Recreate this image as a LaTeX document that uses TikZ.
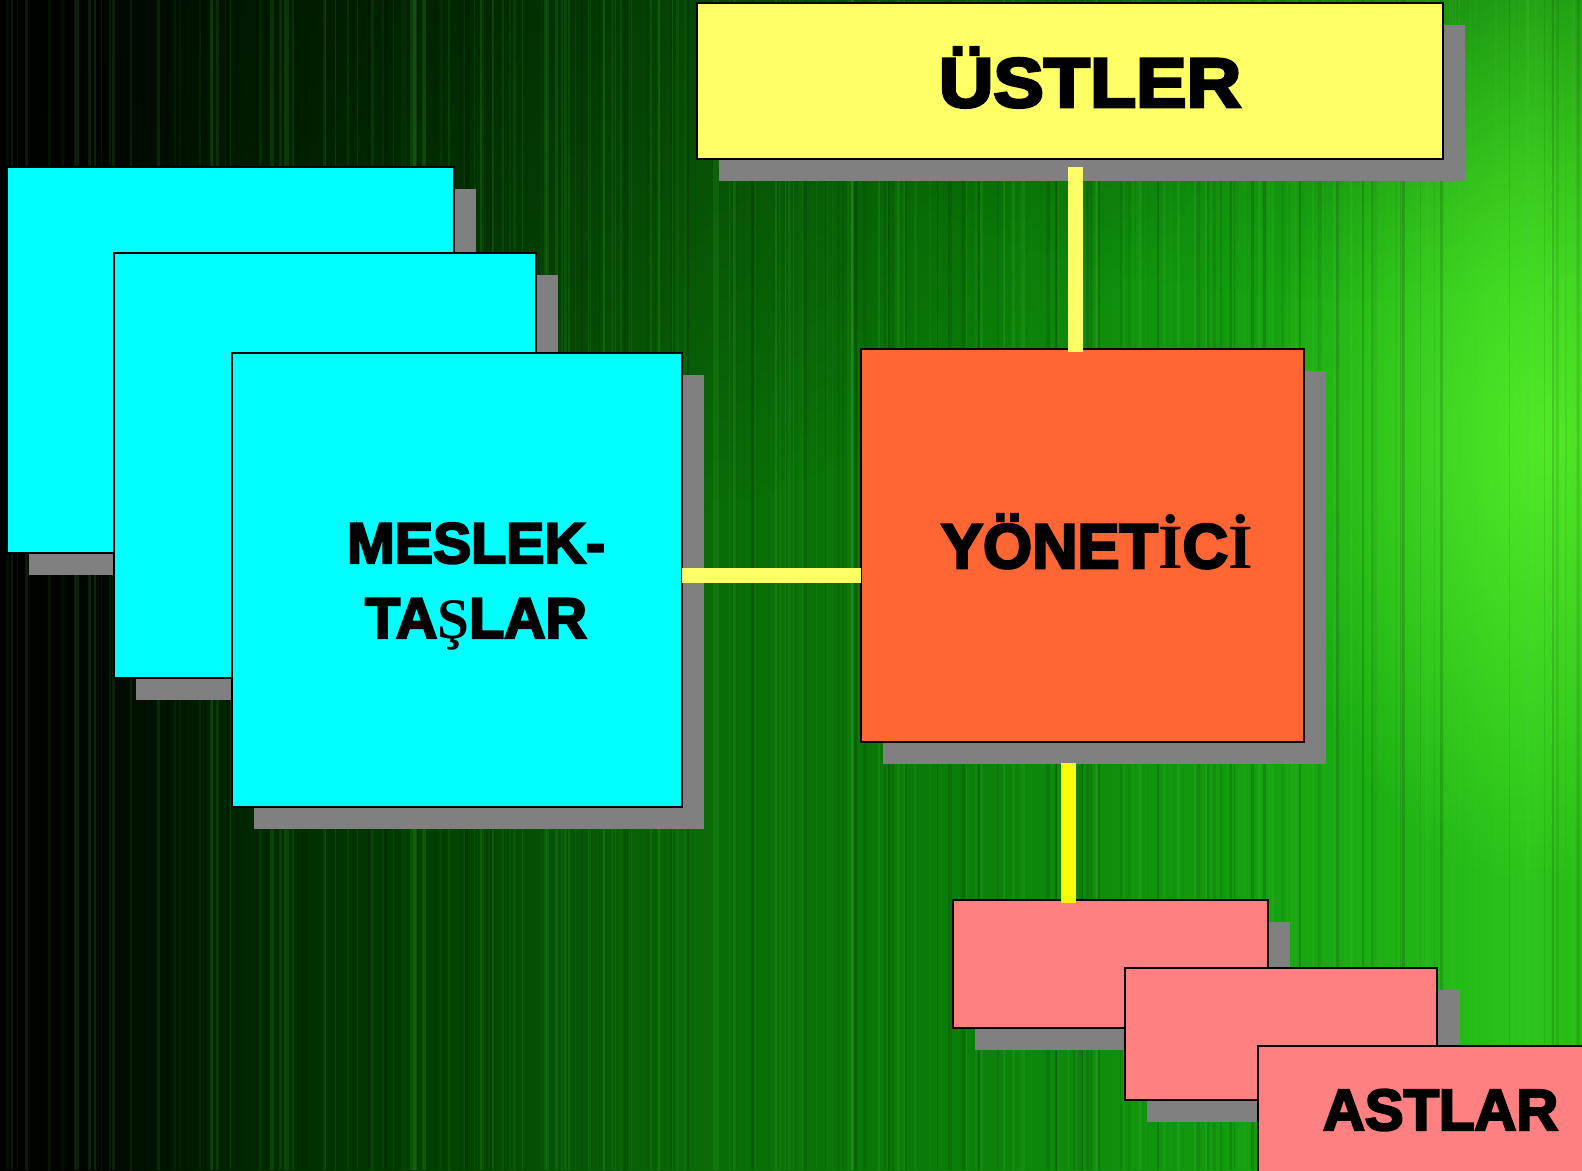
\documentclass[tikz,border=0pt]{standalone}
\usepackage{fontspec}
\newfontfamily\heavy{Liberation Sans Bold}[FakeBold=4]
\newfontfamily\tserif{Liberation Serif Bold}
\usetikzlibrary{shadows,fadings,calc}
\definecolor{bgA}{HTML}{000000}
\definecolor{bgB}{HTML}{020802}
\definecolor{bgC}{HTML}{002800}
\definecolor{bgD}{HTML}{003C00}
\definecolor{bgE}{HTML}{065206}
\definecolor{bgF}{HTML}{0A6A08}
\definecolor{bgG}{HTML}{0A7C08}
\definecolor{bgH}{HTML}{12980F}
\definecolor{bgI}{HTML}{1AAC12}
\definecolor{bgJ}{HTML}{2CC41A}
\definecolor{bgK}{HTML}{28BC16}
\definecolor{glowgreen}{HTML}{58F02A}
\definecolor{streaklight}{HTML}{50D040}
\definecolor{ylw}{HTML}{FFFF66}
\definecolor{cyn}{HTML}{00FFFF}
\definecolor{org}{HTML}{FF6633}
\definecolor{pnk}{HTML}{FF8080}
\definecolor{shd}{HTML}{808080}
\definecolor{connpale}{HTML}{FFFF66}
\definecolor{connbright}{HTML}{FFFF00}
% the path's box maps to 25bp..75bp of the shading
\pgfdeclarehorizontalshading{bgshade}{100bp}{color(0bp)=(bgA); color(25bp)=(bgA); color(28.2bp)=(bgB); color(32.6bp)=(bgC); color(37.6bp)=(bgD); color(42.4bp)=(bgE); color(47.1bp)=(bgF); color(54.7bp)=(bgG); color(62.9bp)=(bgH); color(67.7bp)=(bgI); color(73.4bp)=(bgJ); color(75bp)=(bgK); color(100bp)=(bgK)}
\tikzfading[name=radfade, inner color=transparent!0, outer color=transparent!100]
\begin{document}
\begin{tikzpicture}[x=1pt,y=-1pt,
  box/.style={draw=black, line width=1.5pt, inner sep=0pt, outer sep=0pt, anchor=north west,
    drop shadow={shadow xshift=22pt, shadow yshift=-22pt, fill=shd, opacity=1, draw=none}},
  txt/.style={inner sep=0pt, outer sep=0pt, text=black},
  connA/.style={draw=connpale, line width=15pt},
  connB/.style={draw=connbright, line width=15pt}]
\useasboundingbox (0,0) rectangle (1582,1170);
\clip (0,0) rectangle (1582,1170);
% background
\shade[shading=bgshade] (0,0) rectangle (1582,1170);
\fill[black, opacity=0.5, path fading=radfade] (400,-100) ellipse [x radius=900, y radius=650];
\fill[black, opacity=0.3, path fading=radfade] (1350,-150) ellipse [x radius=700, y radius=450];
\fill[glowgreen, opacity=0.85, path fading=radfade] (1545,440) ellipse [x radius=280, y radius=450];
\pgfmathsetseed{12}
\foreach \i in {1,...,220}{
  \pgfmathsetmacro{\sx}{1582*rnd}
  \pgfmathsetmacro{\sw}{0.7+2.5*rnd}
  \pgfmathsetmacro{\so}{0.03+0.12*rnd}
  \fill[streaklight, opacity=\so] (\sx,0) rectangle ++(\sw,1170);
}
\foreach \i in {1,...,140}{
  \pgfmathsetmacro{\sx}{1582*rnd}
  \pgfmathsetmacro{\sw}{0.7+3*rnd}
  \pgfmathsetmacro{\so}{0.03+0.12*rnd}
  \fill[black, opacity=\so] (\sx,0) rectangle ++(\sw,1170);
}
% boxes
\node[box, fill=ylw, minimum width=746pt, minimum height=156pt] (ust) at (697,3) {};
\node[box, fill=cyn, minimum width=447pt, minimum height=386pt] (cy1) at (7,167) {};
\node[box, fill=cyn, minimum width=422pt, minimum height=425pt] (cy2) at (114,253) {};
\node[box, fill=cyn, minimum width=450pt, minimum height=454pt] (cy3) at (232,353) {};
\node[box, fill=org, minimum width=443pt, minimum height=393pt] (yon) at (861,349) {};
\node[box, fill=pnk, minimum width=315pt, minimum height=128pt] (pk1) at (953,900) {};
\node[box, fill=pnk, minimum width=312pt, minimum height=132pt] (pk2) at (1125,968) {};
\node[box, fill=pnk, minimum width=340pt, minimum height=150pt] (pk3) at (1258,1046) {};
% texts
\node[txt, anchor=base] (tust) at (1090,107) {\heavy\fontsize{70}{80}\selectfont\scalebox{1.08}[1]{ÜSTLER}};
\node[txt, anchor=base] (tmes1) at (476,563) {\heavy\fontsize{57.3}{66}\selectfont MESLEK-};
\node[txt, anchor=base] (tmes2) at (476,638) {\heavy\fontsize{57.3}{66}\selectfont TA{\tserif Ş}LAR};
\node[txt, anchor=base west] (tyon) at (941,568) {\heavy\fontsize{63}{72}\selectfont YÖNET{\tserif İ}C{\tserif İ}};
\node[txt, anchor=base west] (tast) at (1323,1130) {\heavy\fontsize{58}{66}\selectfont ASTLAR};
% connectors
\draw[connA] ($(ust.south)+(5.5,8)$) -- ($(yon.north -| ust.south)+(5.5,3)$);
\draw[connA] ($(cy3.east)+(0,-5)$) -- ($(cy3.east -| yon.west)+(0,-5)$);
\draw[connB] ($(yon.south)+(-14,21)$) -- ($(pk1.north -| yon.south)+(-14,3)$);
\end{tikzpicture}
\end{document}
